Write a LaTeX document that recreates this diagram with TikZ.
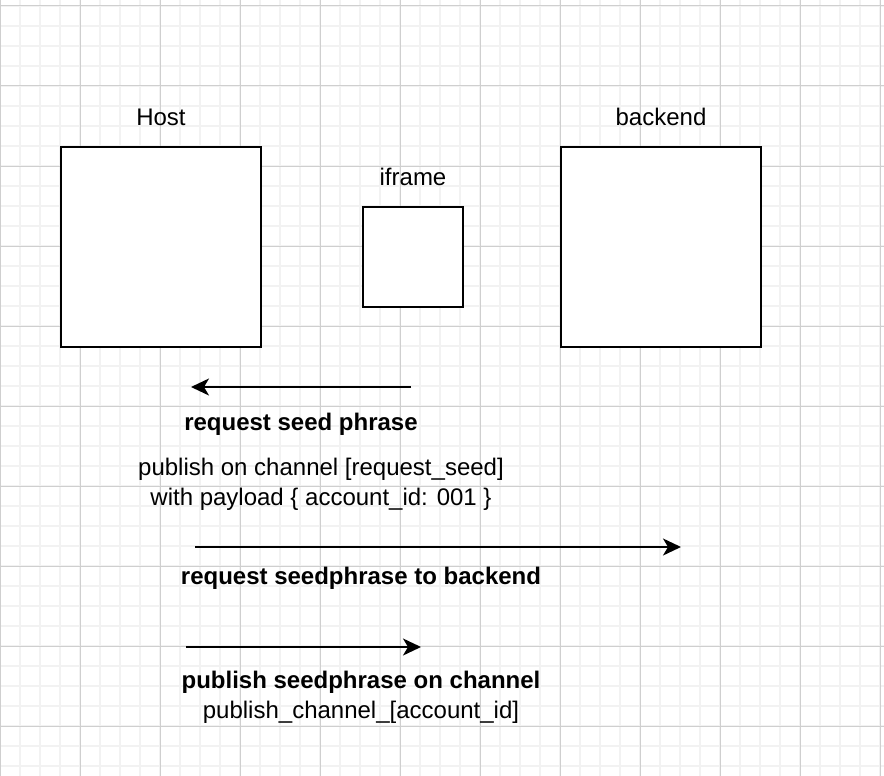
\documentclass[tikz,border=0pt]{standalone}
\usepackage{fontspec}
\setmainfont{Liberation Sans}
\usetikzlibrary{arrows.meta}
\definecolor{gridminor}{HTML}{F2F2F2}
\definecolor{gridmajor}{HTML}{CFCFCF}
\tikzset{
  box/.style={draw=black, fill=white, line width=2pt, minimum width=#1, minimum height=#1, inner sep=0pt},
  lbl/.style={anchor=base, inner sep=0pt, font=\fontsize{24}{30}\selectfont, align=center},
  blbl/.style={lbl, font=\fontsize{24}{30}\selectfont\bfseries},
  flow/.style={line width=2pt, -{Stealth[length=18pt, width=17pt, inset=5pt]}}
}
\begin{document}
\begin{tikzpicture}[x=1pt,y=-1pt]
\useasboundingbox (0,0) rectangle (884,776);
\fill[white] (0,0) rectangle (884,776);
% grid
\foreach \x in {0,20,...,880} \draw[gridminor, line width=1.5pt] (\x,0) -- (\x,776);
\foreach \y in {6,26,...,766} \draw[gridminor, line width=1.5pt] (0,\y) -- (884,\y);
\foreach \x in {0,80,...,880} \draw[gridmajor, line width=1pt] (\x,0) -- (\x,776);
\foreach \y in {6,86,...,726} \draw[gridmajor, line width=1pt] (0,\y) -- (884,\y);
% boxes
\node[box=200pt] (host) at (161,247) {};
\node[box=100pt] (iframe) at (413,257) {};
\node[box=200pt] (backend) at (661,247) {};
% titles
\node[lbl] (hostlbl) at (161,125) {Host};
\node[lbl] (iframelbl) at (413,185) {iframe};
\node[lbl] (backendlbl) at (661,125) {backend};
% arrow 1
\coordinate (a1s) at (411,387);
\coordinate (a1e) at (191,387);
\draw[flow] (a1s) -- (a1e);
\node[blbl] (t1) at (301,430) {request seed phrase};
\node[lbl] (t1b) at (321,505) {publish on channel [request\_seed]\\with payload \{ account\_id: 001 \}};
% arrow 2
\coordinate (a2s) at (195,547);
\coordinate (a2e) at (681,547);
\draw[flow] (a2s) -- (a2e);
\node[blbl] (t2) at (361,584) {request seedphrase to backend};
% arrow 3
\coordinate (a3s) at (186,647);
\coordinate (a3e) at (421,647);
\draw[flow] (a3s) -- (a3e);
\node[lbl] (t3) at (361,718) {\bfseries publish seedphrase on channel\\publish\_channel\_[account\_id]};
\end{tikzpicture}
\end{document}
